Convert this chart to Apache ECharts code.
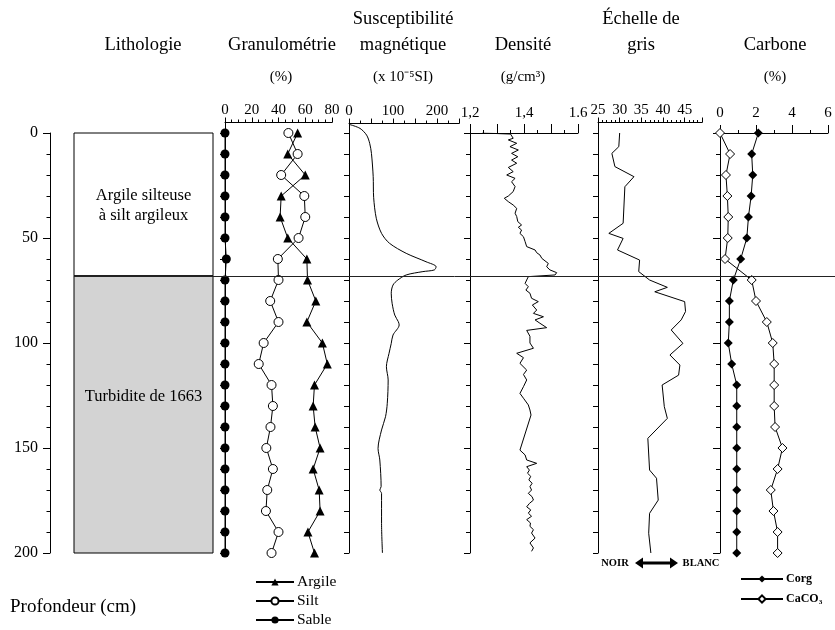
<!DOCTYPE html>
<html><head><meta charset="utf-8">
<script src="https://cdn.jsdelivr.net/npm/echarts@6/dist/echarts.min.js"></script>
<style>html,body{margin:0;padding:0;background:#fff}#c{width:835px;height:630px}</style>
</head><body><div id="c"></div>
<script>
const FONT = 'Liberation Serif';

// ---- Lithology ----
const lithoTop = [0, 68];
const lithoBottom = [68, 200];
const lithoNames = ['Argile silteuse\nà silt argileux', 'Turbidite de 1663'];
const boundaryDepth = 68;

// ---- Granulométrie (%) ----
const granDepth = [0,10,20,30,40,50,60,70,80,90,100,110,120,130,140,150,160,170,180,190,200];
const argile = [54.3,46.9,60,42,41.2,46.9,61.2,61.7,67.9,61.2,72.8,76.5,66.9,65.9,67.4,71.1,65.9,70.4,71.1,62,66.9];
const silt   = [47.4,54.3,42,59.3,60,55,39.5,40,33.8,40,28.9,25.2,34.8,35.8,34,30.9,35.8,31.6,30.6,40,34.8];
const sable  = [0,0,0,0,0,0,1,0,0,0,0,0,0,0,0,0,0,0,0,0,0];

// ---- Susceptibilité magnétique (x 10^-5 SI) ----
const suscDepth = [-4,-2.2,1,4.9,9.7,20.8,30.6,40.6,47.8,52.5,57.3,61.3,63.7,65.2,66,67.6,70,72.4,76.3,81.1,86.7,89.8,91.4,96.2,100.2,104.9,111.3,117.6,128.7,135.1,141.4,150.2,155.7,168.4,170,171.6,185.9,200];
const suscValue = [2,25,40,47,51,55,56,62,74,92,130,175,198,194,168,130,111,100,96,98,104,112,114,100,96,91,85,89,87,83,74,66,70,73,70,74,74,76];

// ---- Densité (g/cm3) ----
const densDepth = [0,0.5,2.5,3.3,4.9,6.5,8.1,9.7,11.3,12.9,14.4,16.4,18.4,20,21.6,23.2,25.5,27.9,30,31.1,32.7,34.3,35.9,38.2,39.8,42.2,43.8,44.9,46.2,47.8,49.4,51.7,54.1,55.7,57,58.1,59.7,62.1,63.7,65.2,66.5,67.6,68.4,70,71.6,73.2,74.8,76.3,78.7,80.3,81.9,84.3,85.9,87.5,89,90.6,92.7,94,96.8,100,102.5,104.9,107,109.7,112.9,115,117.6,120.8,124,126.3,129.5,131.9,134.3,151,153.3,155.7,157.3,158.9,160.5,162,163.5,165.2,166.8,168.4,170,171.6,173.2,174.8,176.4,178,179.5,181,182.5,184.1,185.7,187.3,188.9,190.5,192.9,195.2,197.6,199.2];
const densValue = [1.245,1.35,1.360,1.342,1.373,1.348,1.379,1.354,1.377,1.354,1.373,1.342,1.360,1.336,1.367,1.354,1.367,1.360,1.342,1.327,1.342,1.360,1.373,1.367,1.373,1.377,1.391,1.379,1.391,1.385,1.398,1.404,1.410,1.441,1.447,1.459,1.466,1.490,1.484,1.496,1.521,1.515,1.416,1.410,1.404,1.416,1.407,1.422,1.428,1.453,1.431,1.447,1.435,1.472,1.441,1.459,1.484,1.410,1.422,1.422,1.435,1.373,1.398,1.385,1.410,1.398,1.410,1.398,1.385,1.398,1.416,1.422,1.426,1.385,1.404,1.410,1.447,1.410,1.420,1.413,1.425,1.418,1.430,1.422,1.428,1.416,1.430,1.435,1.420,1.410,1.425,1.416,1.428,1.410,1.424,1.422,1.435,1.428,1.441,1.422,1.435,1.428];

// ---- Échelle de gris ----
const greyDepth = [0,6.5,9.7,16,20.8,25.6,43,47.8,50.2,55.7,60.5,66,70,73.5,75.6,80.3,85,89,93.8,100.2,105.7,110.5,115.3,120,130.3,135.9,145.4,160.5,164.4,174.8,181.1,190.6,200];
const greyValue = [30.0,29.8,28.2,28.9,33.3,31.2,30.8,27.5,30.8,29.5,34.6,34.4,36.9,41.0,38.1,45.0,45.2,44.2,41.9,44.6,41.6,43.9,43.6,39.8,40.3,41.0,36.5,36.9,38.5,38.9,36.9,36.7,37.2];

// ---- Carbone (%) ----
const carbDepth = [0,10,20,30,40,50,60,70,80,90,100,110,120,130,140,150,160,170,180,190,200];
const corg  = [2.13,1.76,1.82,1.73,1.58,1.49,1.15,0.74,0.52,0.52,0.46,0.65,0.93,0.93,0.93,0.93,0.93,0.93,0.93,0.93,0.93];
const caco3 = [0,0.56,0.33,0.41,0.46,0.43,0.28,1.76,2.0,2.6,2.93,3.01,3.01,3.01,3.06,3.47,3.2,2.82,2.97,3.2,3.2];

const depthTicks10 = [];
for (let d = 0; d <= 200; d += 10) depthTicks10.push(d);

const pair = (vals, depths) => vals.map((v, i) => [v, depths[i]]);
const BLACK = '#000';
const line = {lineStyle: {color: BLACK, width: 1}};

function topAxis(grid, o) {
  return Object.assign({
    gridIndex: grid, type: 'value', position: 'top',
    axisLine: {show: true, onZero: false, lineStyle: {color: BLACK, width: 1}},
    axisTick: {show: true, inside: false, length: 5, lineStyle: {color: BLACK}},
    minorTick: {show: true, length: 3, lineStyle: {color: BLACK}},
    splitLine: {show: false},
    axisLabel: {color: BLACK, fontFamily: FONT, fontSize: 15, margin: 5}
  }, o);
}
function sideAxis(grid, o) {
  return Object.assign({
    gridIndex: grid, type: 'value', inverse: true, position: 'left',
    axisLine: {show: true, onZero: false, lineStyle: {color: BLACK, width: 1}},
    axisTick: {show: true, inside: false, length: 7, lineStyle: {color: BLACK}},
    splitLine: {show: false},
    axisLabel: {show: false}
  }, o);
}
const hidden = (grid, min, max, inv) => ({gridIndex: grid, type: 'value', min, max, inverse: !!inv, show: false});

const chart = echarts.init(document.getElementById('c'));

const headers = [
  ['Lithologie', 143, 45, 18.5], ['Granulométrie', 282, 45, 18.5], ['(%)', 281, 77, 15],
  ['Susceptibilité', 403, 19, 18.5], ['magnétique', 403, 45, 18.5], ['(x 10⁻⁵SI)', 403, 77, 15],
  ['Densité', 523, 45, 18.5], ['(g/cm³)', 523, 77, 15],
  ['Échelle de', 641, 19, 18.5], ['gris', 641, 45, 18.5],
  ['Carbone', 775, 45, 18.5], ['(%)', 775, 77, 15]
];
const graphics = headers.map(h => ({
  type: 'text', x: h[1], y: h[2], silent: true,
  style: {text: h[0], fill: BLACK, font: h[3] + 'px "' + FONT + '"', align: 'center', verticalAlign: 'middle', textAlign: 'center', textVerticalAlign: 'middle'}
}));
graphics.push(
  {type: 'text', x: 10, y: 607, style: {text: 'Profondeur (cm)', fill: BLACK, font: '19px "' + FONT + '"', align: 'left', verticalAlign: 'middle', textAlign: 'left', textVerticalAlign: 'middle'}},
  {type: 'text', x: 615, y: 563, style: {text: 'NOIR', fill: BLACK, font: 'bold 10.5px "' + FONT + '"', align: 'center', verticalAlign: 'middle', textAlign: 'center', textVerticalAlign: 'middle'}},
  {type: 'text', x: 701, y: 563, style: {text: 'BLANC', fill: BLACK, font: 'bold 10.5px "' + FONT + '"', align: 'center', verticalAlign: 'middle', textAlign: 'center', textVerticalAlign: 'middle'}},
  {type: 'polygon', shape: {points: [[635,563],[643,557.5],[643,561.5],[670,561.5],[670,557.5],[678,563],[670,568.5],[670,564.5],[643,564.5],[643,568.5]]}, style: {fill: BLACK}}
);

const lithoFill = ['#ffffff', '#d3d3d3'];
const lithoLabelPos = [0.51, 0.437];

chart.setOption({
  animation: false,
  backgroundColor: '#fff',
  grid: [
    {left: 50, top: 133, width: 1, height: 420},
    {left: 74, top: 133, width: 139, height: 420},
    {left: 225, top: 122.5, width: 107, height: 430.5},
    {left: 349, top: 123.55, width: 110, height: 429.45},
    {left: 470, top: 133, width: 108, height: 420},
    {left: 598, top: 122.5, width: 104, height: 430.5},
    {left: 720, top: 133, width: 108, height: 420},
    {left: 74, top: 133, width: 761, height: 420}
  ],
  xAxis: [
    hidden(0, 0, 1),
    hidden(1, 0, 1),
    topAxis(2, {min: 0, max: 80, interval: 20, minorTick: {show: true, splitNumber: 4, length: 3, lineStyle: {color: BLACK}}}),
    topAxis(3, {min: 0, max: 250, interval: 50, minorTick: {show: true, splitNumber: 2, length: 3, lineStyle: {color: BLACK}},
      axisLabel: {color: BLACK, fontFamily: FONT, fontSize: 15, margin: 5, showMaxLabel: false, formatter: v => (v % 100 === 0 ? String(v) : '')}}),
    topAxis(4, {min: 1.2, max: 1.6, interval: 0.1, axisTick: {show: true, length: 9, lineStyle: {color: BLACK}},
      minorTick: {show: true, splitNumber: 2, length: 3, lineStyle: {color: BLACK}},
      axisLabel: {color: BLACK, fontFamily: FONT, fontSize: 15, margin: 12, showMaxLabel: true,
        formatter: v => { const k = Math.round(v * 10); return k === 12 ? '1,2' : k === 14 ? '1,4' : k === 16 ? '1.6' : ''; }}}),
    topAxis(5, {min: 25, max: 49, interval: 5, minorTick: {show: true, splitNumber: 5, length: 2.5, lineStyle: {color: BLACK}},
      axisTick: {show: true, length: 5, lineStyle: {color: BLACK}},
      axisLabel: {color: BLACK, fontFamily: FONT, fontSize: 15, margin: 5, showMaxLabel: false,
        formatter: v => (v % 5 === 0 ? String(v) : '')}}),
    topAxis(6, {min: 0, max: 6, interval: 2, axisTick: {show: true, length: 8, lineStyle: {color: BLACK}},
      minorTick: {show: true, splitNumber: 2, length: 3, lineStyle: {color: BLACK}},
      axisLabel: {color: BLACK, fontFamily: FONT, fontSize: 15, margin: 12}}),
    hidden(7, 0, 1)
  ],
  yAxis: [
    sideAxis(0, {min: 0, max: 200, interval: 50, axisTick: {show: true, length: 7, lineStyle: {color: BLACK}},
      minorTick: {show: true, splitNumber: 5, length: 3.5, lineStyle: {color: BLACK}},
      axisLabel: {show: true, color: BLACK, fontFamily: FONT, fontSize: 16, margin: 12}}),
    hidden(1, 0, 200, true),
    sideAxis(2, {min: -5, max: 200, axisTick: {show: true, length: 5, customValues: depthTicks10, lineStyle: {color: BLACK}}}),
    sideAxis(3, {min: -4.5, max: 200, axisTick: {show: true, length: 5, customValues: depthTicks10, lineStyle: {color: BLACK}}}),
    sideAxis(4, {min: 0, max: 200, interval: 50, axisTick: {show: true, length: 6, lineStyle: {color: BLACK}},
      minorTick: {show: true, splitNumber: 5, length: 4, lineStyle: {color: BLACK}}}),
    sideAxis(5, {min: -5, max: 200, axisTick: {show: true, length: 5, customValues: depthTicks10, lineStyle: {color: BLACK}}}),
    sideAxis(6, {min: 0, max: 200, interval: 50, axisTick: {show: true, length: 7, lineStyle: {color: BLACK}},
      minorTick: {show: true, splitNumber: 5, length: 4, lineStyle: {color: BLACK}}}),
    hidden(7, 0, 200, true)
  ],
  legend: [
    {data: ['Argile', 'Silt', 'Sable'], orient: 'vertical', left: 255, top: 574, height: 80, padding: 0,
      itemWidth: 38, itemHeight: 9, itemGap: 3,
      selectedMode: false, textStyle: {color: BLACK, fontFamily: FONT, fontSize: 15.5, padding: [0, 0, 0, -2]}},
    {data: ['Corg', 'CaCO₃'], orient: 'vertical', left: 740, top: 573, height: 80, padding: 0,
      itemWidth: 42, itemHeight: 9, itemGap: 8,
      selectedMode: false, textStyle: {color: BLACK, fontFamily: FONT, fontSize: 12, fontWeight: 'bold', padding: [0, 0, 0, -2]}}
  ],
  graphic: graphics,
  series: [
    {type: 'custom', xAxisIndex: 1, yAxisIndex: 1, silent: true,
      data: lithoTop.map((t, i) => [t, lithoBottom[i], i]),
      encode: {y: [0, 1]},
      renderItem: (params, api) => {
        const i = params.dataIndex;
        const a = api.coord([0, api.value(0)]);
        const b = api.coord([1, api.value(1)]);
        return {type: 'group', children: [
          {type: 'rect', shape: {x: a[0], y: a[1], width: b[0] - a[0], height: b[1] - a[1]},
            style: {fill: lithoFill[i], stroke: BLACK, lineWidth: 1}},
          {type: 'text', x: (a[0] + b[0]) / 2, y: a[1] + (b[1] - a[1]) * lithoLabelPos[i],
            style: {text: lithoNames[i], fill: BLACK, font: '16.5px "' + FONT + '"', lineHeight: 20,
              align: 'center', verticalAlign: 'middle', textAlign: 'center', textVerticalAlign: 'middle'}}
        ]};
      }},
    {name: 'Argile', type: 'line', xAxisIndex: 2, yAxisIndex: 2, data: pair(argile, granDepth), ...line,
      symbol: 'triangle', symbolSize: 9, itemStyle: {color: BLACK}},
    {name: 'Silt', type: 'line', xAxisIndex: 2, yAxisIndex: 2, data: pair(silt, granDepth), ...line,
      symbol: 'circle', symbolSize: 9, showAllSymbol: true, itemStyle: {color: '#fff', borderColor: BLACK, borderWidth: 1}},
    {name: 'Sable', type: 'line', xAxisIndex: 2, yAxisIndex: 2, data: pair(sable, granDepth), ...line,
      symbol: 'circle', symbolSize: 9, itemStyle: {color: BLACK}},
    {name: 'Susceptibilité', type: 'line', xAxisIndex: 3, yAxisIndex: 3, data: pair(suscValue, suscDepth), ...line,
      symbol: 'none', smooth: 0.3},
    {name: 'Densité', type: 'line', xAxisIndex: 4, yAxisIndex: 4, data: pair(densValue, densDepth), ...line, symbol: 'none'},
    {name: 'Gris', type: 'line', xAxisIndex: 5, yAxisIndex: 5, data: pair(greyValue, greyDepth), ...line, symbol: 'none'},
    {name: 'Corg', type: 'line', xAxisIndex: 6, yAxisIndex: 6, data: pair(corg, carbDepth), ...line,
      symbol: 'diamond', symbolSize: 9, itemStyle: {color: BLACK}},
    {name: 'CaCO₃', type: 'line', xAxisIndex: 6, yAxisIndex: 6, data: pair(caco3, carbDepth), ...line,
      symbol: 'diamond', symbolSize: 9, itemStyle: {color: '#fff', borderColor: BLACK, borderWidth: 1}},
    {type: 'line', xAxisIndex: 7, yAxisIndex: 7, data: [], silent: true,
      markLine: {silent: true, symbol: ['none', 'none'], label: {show: false},
        lineStyle: {color: '#222', width: 1, type: 'solid'}, data: [{yAxis: boundaryDepth}]}}
  ]
});
</script></body></html>
